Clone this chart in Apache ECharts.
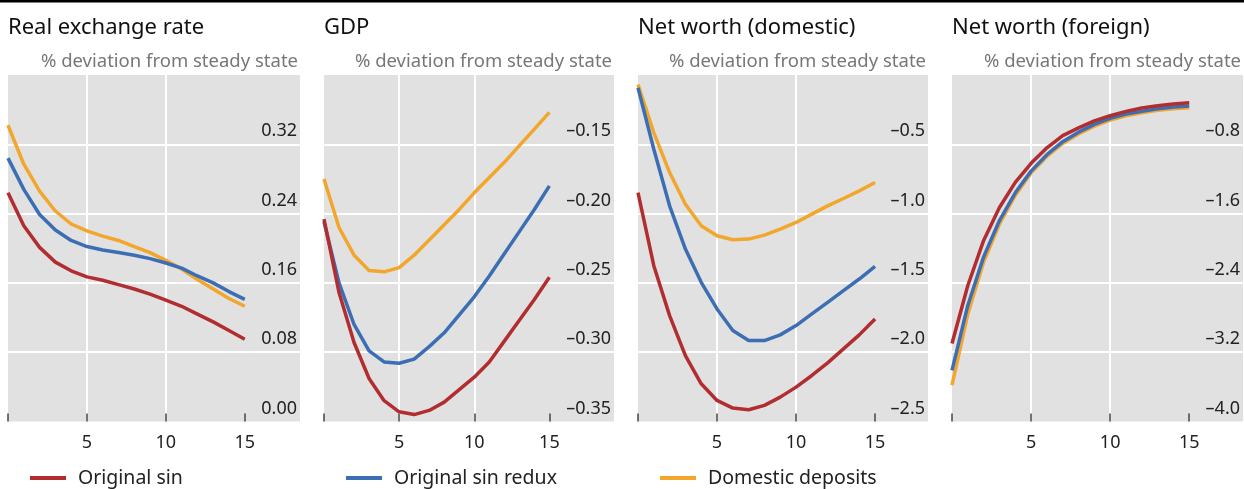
<!DOCTYPE html>
<html>
<head>
<meta charset="utf-8">
<script src="https://cdn.jsdelivr.net/npm/echarts@6/dist/echarts.min.js"></script>
<style>
html,body{margin:0;padding:0;background:#fff;}
#c{width:1244px;height:489px;}
</style>
</head>
<body>
<div id="c"></div>
<script>
// ---- data ----
const periods = [0,1,2,3,4,5,6,7,8,9,10,11,12,13,14,15];
const seriesNames = ['Original sin','Original sin redux','Domestic deposits'];
const panelTitles = ['Real exchange rate','GDP','Net worth (domestic)','Net worth (foreign)'];
const unitLabel = '% deviation from steady state';
const xTickLabels = [5,10,15];

const rerOriginal = [0.264,0.226,0.201,0.184,0.174,0.167,0.163,0.158,0.153,0.147,0.140,0.133,0.124,0.115,0.105,0.095];
const rerRedux    = [0.304,0.268,0.239,0.221,0.209,0.202,0.198,0.195,0.192,0.188,0.183,0.177,0.168,0.160,0.150,0.141];
const rerDomestic = [0.342,0.297,0.266,0.243,0.228,0.220,0.214,0.209,0.202,0.195,0.186,0.176,0.164,0.153,0.142,0.133];

const gdpOriginal = [-0.204,-0.257,-0.293,-0.319,-0.335,-0.343,-0.345,-0.342,-0.336,-0.327,-0.318,-0.307,-0.292,-0.277,-0.262,-0.246];
const gdpRedux    = [-0.206,-0.250,-0.280,-0.299,-0.307,-0.308,-0.305,-0.296,-0.286,-0.273,-0.260,-0.245,-0.229,-0.213,-0.197,-0.180];
const gdpDomestic = [-0.175,-0.210,-0.230,-0.241,-0.242,-0.239,-0.230,-0.219,-0.208,-0.197,-0.185,-0.174,-0.163,-0.151,-0.139,-0.127];

const nwdOriginal = [-0.848,-1.376,-1.736,-2.024,-2.228,-2.348,-2.403,-2.415,-2.384,-2.324,-2.252,-2.168,-2.077,-1.976,-1.875,-1.760];
const nwdRedux    = [-0.092,-0.536,-0.944,-1.256,-1.496,-1.688,-1.844,-1.916,-1.916,-1.875,-1.808,-1.724,-1.640,-1.556,-1.472,-1.381];
const nwdDomestic = [-0.068,-0.416,-0.704,-0.932,-1.088,-1.160,-1.189,-1.184,-1.155,-1.112,-1.064,-1.004,-0.944,-0.891,-0.836,-0.776];

const nwfOriginal = [-3.10,-2.43,-1.91,-1.53,-1.24,-1.02,-0.84,-0.70,-0.61,-0.53,-0.47,-0.42,-0.38,-0.355,-0.335,-0.32];
const nwfRedux    = [-3.41,-2.66,-2.10,-1.68,-1.36,-1.11,-0.92,-0.77,-0.66,-0.57,-0.50,-0.45,-0.42,-0.39,-0.37,-0.358];
const nwfDomestic = [-3.58,-2.76,-2.16,-1.72,-1.39,-1.13,-0.94,-0.79,-0.68,-0.59,-0.52,-0.47,-0.435,-0.408,-0.389,-0.378];

const yMins = [0, -0.35, -2.5, -4.0];
const yMaxs = [0.40, -0.10, 0, 0];
const yIntervals = [0.08, 0.05, 0.5, 0.8];
const yDecimals = [2, 2, 1, 1];

// ---- layout / style ----
const colors = {'Original sin':'#b22d30','Original sin redux':'#3c6eb4','Domestic deposits':'#f2a62b'};
const gridLefts = [8, 324, 638, 952];
const gridWidths = [292, 290, 290, 291];
const xMaxs = [18.5, 19.3, 18.35, 18.4];
const gridTop = 75, gridHeight = 346.5;
const FONT = 'Noto Sans';

const panelData = [
  [rerOriginal, rerRedux, rerDomestic],
  [gdpOriginal, gdpRedux, gdpDomestic],
  [nwdOriginal, nwdRedux, nwdDomestic],
  [nwfOriginal, nwfRedux, nwfDomestic]
];

const grids = [], xAxes = [], yAxes = [], series = [], titles = [];
for (let p = 0; p < 4; p++) {
  grids.push({left: gridLefts[p], top: gridTop, width: gridWidths[p], height: gridHeight,
    show: true, backgroundColor: '#e1e1e1', borderWidth: 0, containLabel: false});
  xAxes.push({
    type: 'value', gridIndex: p, min: 0, max: xMaxs[p], interval: 5, position: 'bottom',
    axisLine: {show: false, onZero: false},
    axisTick: {show: true, inside: true, length: 8, customValues: [0,5,10,15],
      lineStyle: {color: '#444', width: 1.5}},
    axisLabel: {show: true, customValues: xTickLabels, margin: 12, fontFamily: FONT, fontSize: 18, color: '#222',
      formatter: v => (xTickLabels.indexOf(v) >= 0 ? String(v) : '')},
    splitLine: {show: true, showMinLine: false, showMaxLine: false, lineStyle: {color: '#ffffff', width: 2}}
  });
  const dec = yDecimals[p];
  yAxes.push({
    type: 'value', gridIndex: p, position: 'right', min: yMins[p], max: yMaxs[p], interval: yIntervals[p],
    axisLine: {show: false, onZero: false}, axisTick: {show: false},
    axisLabel: {show: true, inside: true, margin: 3, showMaxLabel: false, showMinLabel: true,
      verticalAlign: 'bottom', padding: [0,0,4,0],
      fontFamily: FONT, fontSize: 18, color: '#222',
      formatter: v => {
        if (v > yMaxs[p] - 1e-9) return '';
        const s = (Math.round(v * Math.pow(10, dec)) / Math.pow(10, dec)).toFixed(dec);
        return s.replace('-', '\u2013');
      }},
    splitLine: {show: true, showMinLine: false, showMaxLine: false, lineStyle: {color: '#ffffff', width: 2}}
  });
  titles.push({text: panelTitles[p], left: gridLefts[p], top: 17, padding: 0,
    textStyle: {fontFamily: FONT, fontSize: 22, fontWeight: 'normal', color: '#111'}});
  titles.push({text: unitLabel, right: 1244 - (gridLefts[p] + gridWidths[p]) + 2, top: 52, padding: 0,
    textStyle: {fontFamily: FONT, fontSize: 18.5, fontWeight: 'normal', color: '#777'}});
  // draw order: domestic, redux, original (original on top)
  for (let s = 2; s >= 0; s--) {
    const name = seriesNames[s];
    series.push({
      name: name, type: 'line', xAxisIndex: p, yAxisIndex: p,
      data: periods.map((x, i) => [x, panelData[p][s][i]]),
      showSymbol: false, symbol: 'none', smooth: false,
      lineStyle: {color: colors[name], width: 3.5},
      itemStyle: {color: colors[name]},
      silent: true, animation: false
    });
  }
}

const legendLefts = [30, 346, 660];
const legends = seriesNames.map((n, i) => ({
  data: [n], left: legendLefts[i], top: 468, padding: 0, icon: 'rect', itemWidth: 36, itemHeight: 4,
  itemGap: 0, selectedMode: false,
  textStyle: {fontFamily: FONT, fontSize: 19.5, color: '#222', padding: [0,0,0,7]}
}));

const chart = echarts.init(document.getElementById('c'), null, {renderer: 'canvas'});
chart.setOption({
  animation: false,
  backgroundColor: '#ffffff',
  title: titles,
  legend: legends,
  grid: grids,
  xAxis: xAxes,
  yAxis: yAxes,
  series: series,
  graphic: [{type: 'rect', left: 0, top: 0, shape: {width: 1244, height: 2.5}, style: {fill: '#000'}}]
});
</script>
</body>
</html>
